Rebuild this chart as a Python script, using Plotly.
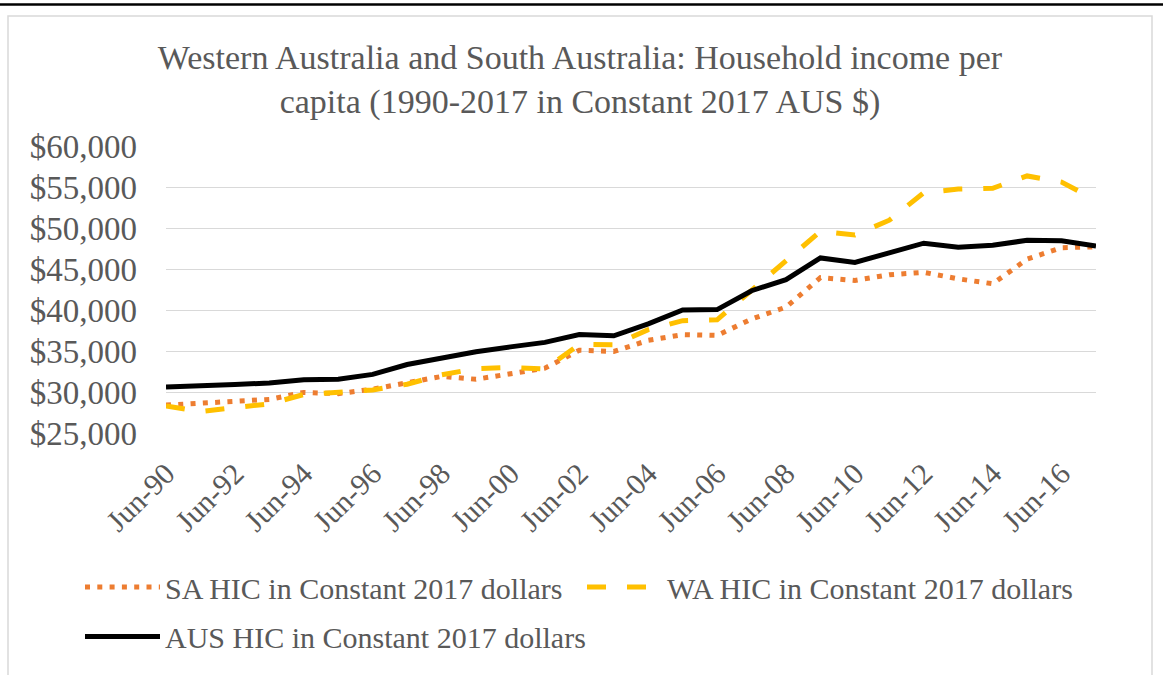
import plotly.graph_objects as go

# Jun-90 .. Jun-17, one point per year
years = list(range(1990, 2018))
labels = ["Jun-%02d" % (y % 100) for y in years]

sa_hic = [28400, 28650, 28850, 29100, 29950, 29800, 30350, 31100, 31900, 31550,
          32150, 32900, 35100, 34950, 36300, 37000, 36900, 38900, 40350, 43950,
          43600, 44300, 44600, 43800, 43200, 46200, 47600, 47700]
wa_hic = [28300, 27600, 28100, 28550, 29700, 30000, 30250, 30950, 32100, 32850,
          33000, 32800, 35800, 35750, 37600, 38700, 38800, 42400, 46050, 49600,
          49150, 50950, 54300, 54750, 54850, 56350, 55600, 53400]
aus_hic = [30600, 30700, 30900, 31100, 31500, 31550, 32150, 33350, 34200, 34900,
           35500, 36050, 37000, 36850, 38300, 40000, 40050, 42350, 43700, 46350,
           45800, 46900, 48150, 47650, 47900, 48500, 48450, 47800]

FONT = "Liberation Serif"
GREY_TXT = "#595959"

fig = go.Figure()
fig.add_trace(go.Scatter(x=labels, y=sa_hic, mode="lines",
                         name="SA HIC in Constant 2017 dollars", legend="legend",
                         showlegend=True,
                         line=dict(color="#ED7D31", width=5, dash="5px,7.3px")))
fig.add_trace(go.Scatter(x=labels, y=wa_hic, mode="lines",
                         name="WA HIC in Constant 2017 dollars", legend="legend2",
                         showlegend=True,
                         line=dict(color="#FFC000", width=5, dash="19px,21px")))
fig.add_trace(go.Scatter(x=labels, y=aus_hic, mode="lines",
                         name="AUS HIC in Constant 2017 dollars", legend="legend3",
                         showlegend=True,
                         line=dict(color="#000000", width=5)))

# plot area is 166..1096 x 146..435 px
W, H = 1163, 675
L, R, T, B = 166, 1096, 146, 435

def px(x):
    return (x - L) / (R - L)

def py(y):
    return (B - y) / (B - T)

leg_common = dict(orientation="h", xanchor="left", yanchor="middle",
                  itemwidth=75, font=dict(family=FONT, size=30, color=GREY_TXT),
                  bgcolor="rgba(0,0,0,0)")

fig.update_layout(
    width=W, height=H,
    margin=dict(l=L, r=W - R, t=T, b=H - B),
    paper_bgcolor="white", plot_bgcolor="white",
    font=dict(family=FONT, color=GREY_TXT, size=30),
    showlegend=True,
    title=dict(text="Western Australia and South Australia: Household income per<br>"
                    "capita (1990-2017 in Constant 2017 AUS $)",
               x=px(580), xref="paper", xanchor="center",
               y=1 - 69 / H, yanchor="middle",
               font=dict(family=FONT, size=34, color=GREY_TXT)),
    xaxis=dict(type="category", range=[0, len(labels) - 1],
               tickmode="array", tickvals=labels[::2], ticktext=labels[::2],
               tickangle=-45, showgrid=False, showline=False, ticks="",
               ticklabelstandoff=16,
               tickfont=dict(family=FONT, size=30, color=GREY_TXT)),
    yaxis=dict(range=[25000, 60000], dtick=5000, tickprefix="$", tickformat=",",
               showgrid=True, gridcolor="#d9d9d9", gridwidth=1.3,
               zeroline=False, showline=False, ticks="",
               ticklabelstandoff=28,
               tickfont=dict(family=FONT, size=33, color=GREY_TXT)),
    legend=dict(x=px(80), y=py(590), **leg_common),
    legend2=dict(x=px(582), y=py(590), **leg_common),
    legend3=dict(x=px(80), y=py(640), **leg_common),
    shapes=[
        # chart frame
        dict(type="rect", xref="paper", yref="paper",
             x0=px(8), x1=px(1152), y0=py(690), y1=py(15),
             line=dict(color="#d9d9d9", width=1.5), layer="below"),
        # black rule along the top of the page
        dict(type="line", xref="paper", yref="paper",
             x0=px(0), x1=px(1163), y0=py(3.5), y1=py(3.5),
             line=dict(color="black", width=2.5)),
    ],
)

fig.write_html("out.html", config={"displayModeBar": False},
               post_script="document.body.style.margin = '0';")
